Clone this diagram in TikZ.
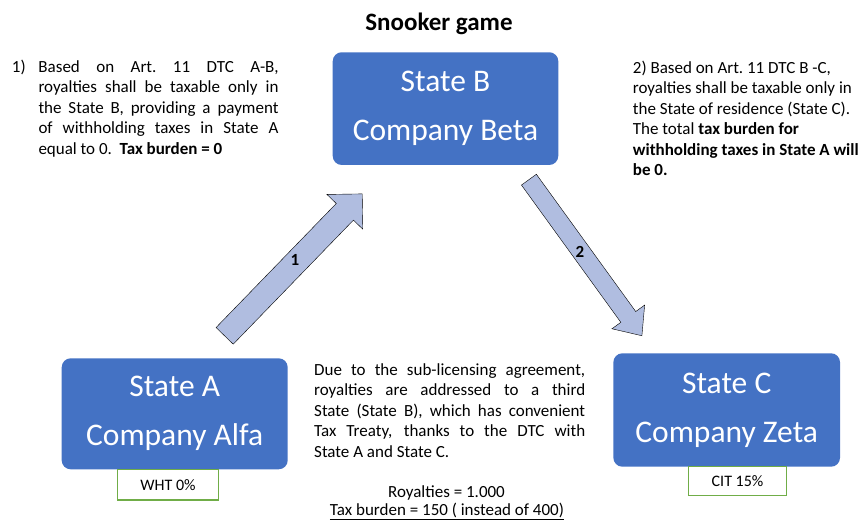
\documentclass[tikz,border=0pt]{standalone}
\usepackage{fontspec}
\setmainfont{Carlito}
\usetikzlibrary{shapes.arrows}
\definecolor{stateblue}{HTML}{4472C4}
\definecolor{arrowfill}{RGB}{176,189,224}
\definecolor{taxgreen}{HTML}{70AD47}
\newcommand{\bodyfont}{\fontsize{17}{20.5}\selectfont}
\newcommand{\statefont}{\fontsize{31.5}{49}\selectfont}

\begin{document}
\begin{tikzpicture}[x=1pt,y=-1pt]
        \useasboundingbox (0,0) rectangle (865,522);
        \node[anchor=base,font=\fontsize{25}{30}\selectfont\bfseries] (title) at (439,30) {Snooker game};

        \begin{scope}[every node/.style={rectangle,rounded corners=9pt,fill=stateblue,text=white,align=center,font=\statefont}]
          \node[minimum width=225.6pt,minimum height=112.7pt] (B) at (445.5,108.6) {State B\\Company Beta};
          \node[minimum width=226pt,minimum height=111pt] (A) at (174.7,413.8) {State A\\Company Alfa};
          \node[minimum width=226.7pt,minimum height=113.4pt] (C) at (726.7,410) {State C\\Company Zeta};
        \end{scope}
        \begin{scope}[every node/.style={rectangle,draw=taxgreen,line width=1.3pt,fill=white,font=\fontsize{16}{19}\selectfont}]
          \node[minimum width=100.6pt,minimum height=30.7pt] (wht) at (168,484.7) {WHT 0\%};
          \node[minimum width=98.4pt,minimum height=29pt] (cit) at (737.5,481.2) {CIT 15\%};
        \end{scope}
        \begin{scope}[every node/.style={single arrow,draw=black,thin,fill=arrowfill,inner xsep=0pt,anchor=tail}]
          \node[rotate=45.9,minimum height=197.7pt,inner ysep=11.75pt,single arrow head extend=13pt,single arrow tip angle=90] (AB) at (224.5,336) {};
          \node[rotate=-54.1,minimum height=192.7pt,inner ysep=9pt,single arrow head extend=11pt,single arrow tip angle=82] (BC) at (528.8,179.5) {};
        \end{scope}
        \node[font=\bodyfont\bfseries] (n1) at (295,260) {1};
        \node[font=\bodyfont\bfseries] (n2) at (580,252.3) {2};

        % texts
        \node[anchor=north west,inner sep=0pt,align=left,font=\bodyfont] (txtAB) at (11.7,57.65) {%
          \strut\makebox[26.6pt][l]{1)}\makebox[240pt][s]{Based on Art.\ 11 DTC A-B,}\\
          \hspace*{26.6pt}\makebox[240pt][s]{royalties shall be taxable only in}\\
          \hspace*{26.6pt}\makebox[240pt][s]{the State B, providing a payment}\\
          \hspace*{26.6pt}\makebox[240pt][s]{of withholding taxes in State A}\\
          \hspace*{26.6pt}equal to 0.\ \ \textbf{Tax burden = 0}};
        \node[anchor=north west,inner sep=0pt,align=left,font=\bodyfont] (txtBC) at (632.7,58.65) {%
          \strut 2) Based on Art.\ 11 DTC B -C,\\
          royalties shall be taxable only in\\
          the State of residence (State C).\\
          The total \textbf{tax burden for}\\
          \textbf{withholding taxes in State A will}\\
          \textbf{be 0.}};
        \node[anchor=north west,inner sep=0pt,align=left,font=\bodyfont] (txtmid) at (314,360.65) {%
          \strut\makebox[271pt][s]{Due to the sub-licensing agreement,}\\
          \makebox[271pt][s]{royalties are addressed to a third}\\
          \makebox[271pt][s]{State (State B), which has convenient}\\
          \makebox[271pt][s]{Tax Treaty, thanks to the DTC with}\\
          State A and State C.};
        \node[anchor=base,font=\bodyfont] (roy) at (446.5,497.3) {Royalties = 1.000};
        \node[anchor=base,font=\bodyfont] (burden) at (447,515.5) {\underline{Tax burden = 150 ( instead of 400)}};
\end{tikzpicture}
\end{document}
